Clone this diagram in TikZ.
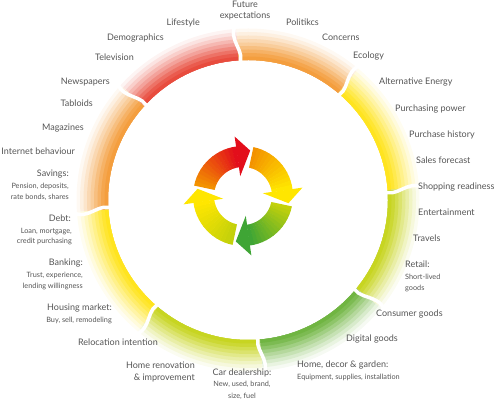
\documentclass[tikz,border=0pt]{standalone}
\usepackage{fontspec}
\setmainfont{Lato}
\usetikzlibrary{positioning}

\definecolor{segred}{HTML}{E74536}
\definecolor{segorange}{HTML}{F39A36}
\definecolor{segyellow}{HTML}{FFE316}
\definecolor{seglime}{HTML}{C5D318}
\definecolor{seggreen}{HTML}{6AB23A}
\definecolor{arrred}{HTML}{E30E1B}
\definecolor{arrorange}{HTML}{F39200}
\definecolor{arryellow}{HTML}{FFE600}
\definecolor{arrlime}{HTML}{C3D10B}
\definecolor{arrgreen}{HTML}{3FA535}
\definecolor{labelgray}{HTML}{555555}

\begin{document}
\begin{tikzpicture}[x=1pt, y=1pt]

    \tikzstyle{topic}  = [font=\fontsize{9}{10}\selectfont, text=labelgray, inner sep=0pt];
    \tikzstyle{detail} = [font=\fontsize{7.3}{9}\selectfont, text=labelgray, inner sep=0pt];
    \tikzstyle{gap}    = [white, line width=3.5pt, line cap=round];

    \useasboundingbox (0,0) rectangle (500,401);
    \coordinate (ring) at (248,201);
    \coordinate (hub)  at (243,205);

    %
    % Outer ring
    %
    \begin{scope}[shift={(ring)}]
        \foreach \a/\b/\col in {4/50/segyellow, 50/94/segorange, 94/138/segred, 138/184/segorange,
                                184/230/segyellow, 230/275/seglime, 275/321/seggreen, 321/364/seglime} {
            \foreach \k/\pc in {9/6, 8/15, 7/26, 6/38, 5/50, 4/63, 3/76, 2/88, 1/96} {
                \pgfmathsetmacro\ro{140+3.5*\k}
                \fill[\col!\pc!white] (\a:140) arc[start angle=\a, end angle=\b, radius=140]
                    -- (\b:\ro) arc[start angle=\b, end angle=\a, radius=\ro] -- cycle;
            }
        }
        \foreach \g in {4,50,94,138,184,230,275,321} {
            \draw[gap, rotate=\g] (135,0) .. controls (148,-10) and (160,10) .. (176,0);
        }
    \end{scope}

    %
    % Cycle arrows
    %
    \begin{scope}[shift={(hub)}]
        \foreach \t/\tl/\hd in {168/arrorange/arrred, 78/arrorange/arryellow,
                                -12/arrlime/arrgreen, -102/arrlime/arryellow} {
            \foreach \i in {0,...,13} {
                \pgfmathtruncatemacro\pc{100*\i/13}
                \pgfmathsetmacro\sa{\t-5*\i}
                \pgfmathsetmacro\sb{\t-5*\i-5.6}
                \fill[\hd!\pc!\tl] (\sa:29) arc[start angle=\sa, end angle=\sb, radius=29]
                    -- (\sb:50) arc[start angle=\sb, end angle=\sa, radius=50] -- cycle;
            }
            \pgfmathsetmacro\hb{\t-70}
            \pgfmathsetmacro\tp{\t-87}
            \fill[\hd] (\hb:20) -- (\hb:60) -- (\tp:46) -- cycle;
        }
    \end{scope}

    %
    % Topics, left half
    %
    \node[topic, anchor=base east]  (lifestyle)    at (200,375)   {Lifestyle};
    \node[topic, anchor=base east]  (demographics) at (164,360)   {Demographics};
    \node[topic, anchor=base east]  (television)   at (134,340)   {Television};
    \node[topic, anchor=base east]  (newspapers)   at (110,316)   {Newspapers};
    \node[topic, anchor=base east]  (tabloids)     at (93,294)    {Tabloids};
    \node[topic, anchor=base east]  (magazines)    at (84,270)    {Magazines};
    \node[topic, anchor=base east]  (internet)     at (75,246)    {Internet behaviour};
    \node[topic, anchor=base east]  (savings)      at (69,224)    {Savings:};
    \node[detail, anchor=base east] (savings-1)    at (69,212.5)  {Pension, deposits,};
    \node[detail, anchor=base east] (savings-2)    at (69,201.5)  {rate bonds, shares};
    \node[topic, anchor=base east]  (debt)         at (71,179)    {Debt:};
    \node[detail, anchor=base east] (debt-1)       at (72,167.5)  {Loan, mortgage,};
    \node[detail, anchor=base east] (debt-2)       at (72,157.5)  {credit purchasing};
    \node[topic, anchor=base east]  (banking)      at (83,135)    {Banking:};
    \node[detail, anchor=base east] (banking-1)    at (83,123.5)  {Trust, experience,};
    \node[detail, anchor=base east] (banking-2)    at (83,112.5)  {lending willingness};
    \node[topic, anchor=base east]  (housing)      at (112,90)    {Housing market:};
    \node[detail, anchor=base east] (housing-1)    at (112,78.5)  {Buy, sell, remodeling};
    \node[topic, anchor=base east]  (relocation)   at (158,55)    {Relocation intention};
    \node[topic, anchor=base east]  (renovation)   at (195,32)    {Home renovation};
    \node[topic, anchor=base east]  (renovation-2) at (195,20)    {\& improvement};

    %
    % Topics, top and bottom
    %
    \node[topic, anchor=base]       (future)       at (245,393)   {Future};
    \node[topic, anchor=base]       (future-2)     at (245,382)   {expectations};
    \node[topic, anchor=base]       (car)          at (242,25)    {Car dealership:};
    \node[detail, anchor=base]      (car-1)        at (242,14.5)  {New, used, brand,};
    \node[detail, anchor=base]      (car-2)        at (242,2.5)   {size, fuel};

    %
    % Topics, right half
    %
    \node[topic, anchor=base west]  (politics)     at (286,375)   {Politikcs};
    \node[topic, anchor=base west]  (concerns)     at (322,360)   {Concerns};
    \node[topic, anchor=base west]  (ecology)      at (353,342)   {Ecology};
    \node[topic, anchor=base west]  (energy)       at (379,316)   {Alternative Energy};
    \node[topic, anchor=base west]  (power)        at (395,289)   {Purchasing power};
    \node[topic, anchor=base west]  (history)      at (409,263)   {Purchase history};
    \node[topic, anchor=base west]  (forecast)     at (416,237)   {Sales forecast};
    \node[topic, anchor=base west]  (readiness)    at (418,211)   {Shopping readiness};
    \node[topic, anchor=base west]  (entertainment) at (418,185)  {Entertainment};
    \node[topic, anchor=base west]  (travels)      at (413,159)   {Travels};
    \node[topic, anchor=base west]  (retail)       at (405,133)   {Retail:};
    \node[detail, anchor=base west] (retail-1)     at (405,121.5) {Short-lived};
    \node[detail, anchor=base west] (retail-2)     at (405,110.5) {goods};
    \node[topic, anchor=base west]  (consumer)     at (376,84)    {Consumer goods};
    \node[topic, anchor=base west]  (digital)      at (346,59)    {Digital goods};
    \node[topic, anchor=base west]  (garden)       at (297,33)    {Home, decor \& garden:};
    \node[detail, anchor=base west] (garden-1)     at (297,21.5)  {Equipment, supplies, installation};

\end{tikzpicture}
\end{document}
